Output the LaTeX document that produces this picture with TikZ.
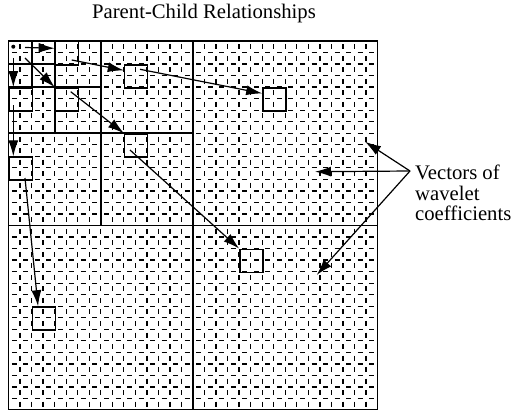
\documentclass[tikz,border=0pt]{standalone}
\usepackage{fontspec}
\setmainfont{Liberation Serif}
\usetikzlibrary{arrows.meta}
\begin{document}
\begin{tikzpicture}[x=1pt,y=-1pt,
  arr/.style={-{Latex[length=16pt,width=10pt]}, line width=1.2pt},
  part/.style={line width=1.9pt},
  cellbox/.style={draw, line width=1.5pt, minimum size=23.0625pt, inner sep=0pt, anchor=north west},
  texture/.style={line width=1.3pt, dash pattern=on 5pt off 6.53pt, dash phase=8.26pt},
  lbl/.style={font=\fontsize{20.7}{20.5}\selectfont, align=left, inner sep=0pt},
  ttl/.style={font=\fontsize{20.7}{24}\selectfont, inner sep=0pt}]
\useasboundingbox (0,0) rectangle (513,409);
\def\S{23.0625}
\def\g{11.53125}
% texture of coefficients
\foreach \i in {1,...,31} {
  \draw[texture] (8.5+\i*\g,41) -- (8.5+\i*\g,410);
  \draw[texture] (8.5,41+\i*\g) -- (377.5,41+\i*\g);
}
% subband partition
\draw[part] (8.5,41) rectangle (377.5,410);
\draw[part] (193,41) -- (193,410) (8.5,225.5) -- (377.5,225.5);
\draw[part] (100.75,41) -- (100.75,225.5) (8.5,133.25) -- (193,133.25);
\draw[part] (54.625,41) -- (54.625,133.25) (8.5,87.125) -- (100.75,87.125);
\draw[part] (31.56,41) -- (31.56,87.125) (8.5,64.06) -- (54.625,64.06);
% highlighted groups
\node[cellbox] (bA) at (8.5+2*\S,41) {};
\node[cellbox] (bB) at (8.5+5*\S,41+\S) {};
\node[cellbox] (bC) at (8.5+11*\S,41+2*\S) {};
\node[cellbox] (bD) at (8.5+2*\S,41+2*\S) {};
\node[cellbox] (bE) at (8.5+5*\S,41+4*\S) {};
\node[cellbox] (bF) at (8.5+10*\S,41+9*\S) {};
\node[cellbox] (bG) at (8.5,41+2*\S) {};
\node[cellbox] (bH) at (8.5,41+5*\S) {};
\node[cellbox] (bI) at (8.5+\S,41+11.5*\S) {};
\node[circle, fill, inner sep=0pt, minimum size=4pt] (dot) at (13.3,46.7) {};
% parent-child arrows
\coordinate (h0) at (25,47.5);
\coordinate (v0) at (13.3,58);
\coordinate (d0) at (25,58);
\coordinate (a1) at (71.7,60);
\coordinate (a2) at (140,69.3);
\coordinate (a3) at (70.7,91.7);
\coordinate (a4) at (130,150);
\coordinate (a5) at (13.3,105);
\coordinate (a6) at (25,178);
\draw[arr] (h0) -- ([yshift=5pt]bA.west);
\draw[arr] (v0) -- (dot |- bG.north);
\draw[arr] (d0) -- (bD.north west);
\draw[arr] (a1) -- ([yshift=6pt]bB.west);
\draw[arr] (a2) -- ([yshift=6pt]bC.west);
\draw[arr] (a3) -- (bE.north west);
\draw[arr] (a4) -- (bF.north west);
\draw[arr] (a5) -- (dot |- bH.north);
\draw[arr] (a6) -- ([xshift=-5.8pt]bI.north);
% title
\node[ttl, anchor=base east] (title) at (316,19) {Parent-Child Relationships};
% label
\node[lbl, anchor=north west] (lab) at (415,165) {Vectors of\\wavelet\\coefficients};
\coordinate (ls) at (410,171);
\coordinate (t1) at (365,141.7);
\coordinate (t2) at (315,171.7);
\coordinate (t3) at (316.7,275);
\draw[arr] (ls) -- (t1);
\draw[arr] (ls) -- (t2);
\draw[arr] (ls) -- (t3);
\end{tikzpicture}
\end{document}
